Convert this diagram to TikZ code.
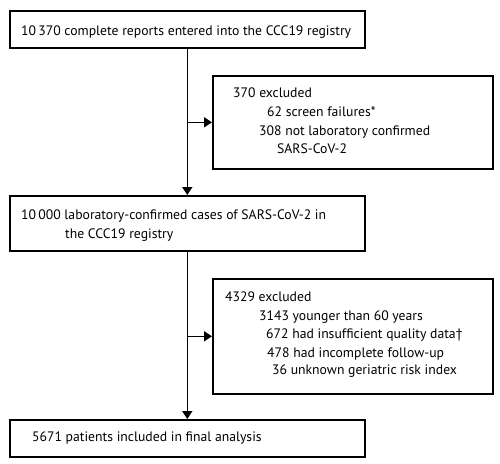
\documentclass[tikz,border=0pt]{standalone}
\usepackage{fontspec}
\setmainfont{PT Sans}
\usetikzlibrary{arrows.meta}
\tikzset{
  box/.style={draw, line width=1.6pt, inner sep=0pt, anchor=north west},
  txt/.style={anchor=base west, inner sep=0pt, font=\fontsize{13.7}{16}\selectfont},
  flow/.style={line width=1.6pt, -{Triangle[length=8pt,width=10pt]}}
}
\begin{document}
\begin{tikzpicture}[x=1pt,y=-1pt]
\useasboundingbox (0,0) rectangle (500,463);
% boxes
\node[box, minimum width=355pt, minimum height=37pt] (b1) at (9,10) {};
\node[box, minimum width=280pt, minimum height=93pt] (b2) at (212,75) {};
\node[box, minimum width=355pt, minimum height=55pt] (b3) at (9,195) {};
\node[box, minimum width=280pt, minimum height=115pt] (b4) at (212,278) {};
\node[box, minimum width=355pt, minimum height=37pt] (b5) at (9,419) {};
% texts
\node[txt] (t1) at (21,35) {10\,370 complete reports entered into the CCC19 registry};
\node[txt] (t2a) at (233,97) {370 excluded};
\node[txt] (t2b) at (267,116) {62 screen failures*};
\node[txt] (t2c) at (259,135) {308 not laboratory confirmed};
\node[txt] (t2d) at (277,153) {SARS-CoV-2};
\node[txt] (t3a) at (21,219) {10\,000 laboratory-confirmed cases of SARS-CoV-2 in};
\node[txt] (t3b) at (65,238) {the CCC19 registry};
\node[txt] (t4a) at (225,301) {4329 excluded};
\node[txt] (t4b) at (259,320) {3143 younger than 60 years};
\node[txt] (t4c) at (266,338) {672 had insufficient quality data\textdagger};
\node[txt] (t4d) at (267,357) {478 had incomplete follow-up};
\node[txt] (t4e) at (272,374) {36 unknown geriatric risk index};
\node[txt] (t5) at (32,441) {5671 patients included in final analysis};
% connectors
\coordinate (j1) at (b1.south |- b2.west);
\coordinate (j2) at (b3.south |- b4.west);
\draw[flow] (b1.south) -- (b3.north);
\draw[flow] (j1) -- (b2.west);
\draw[flow] (b3.south) -- (b5.north);
\draw[flow] (j2) -- (b4.west);
\end{tikzpicture}
\end{document}
